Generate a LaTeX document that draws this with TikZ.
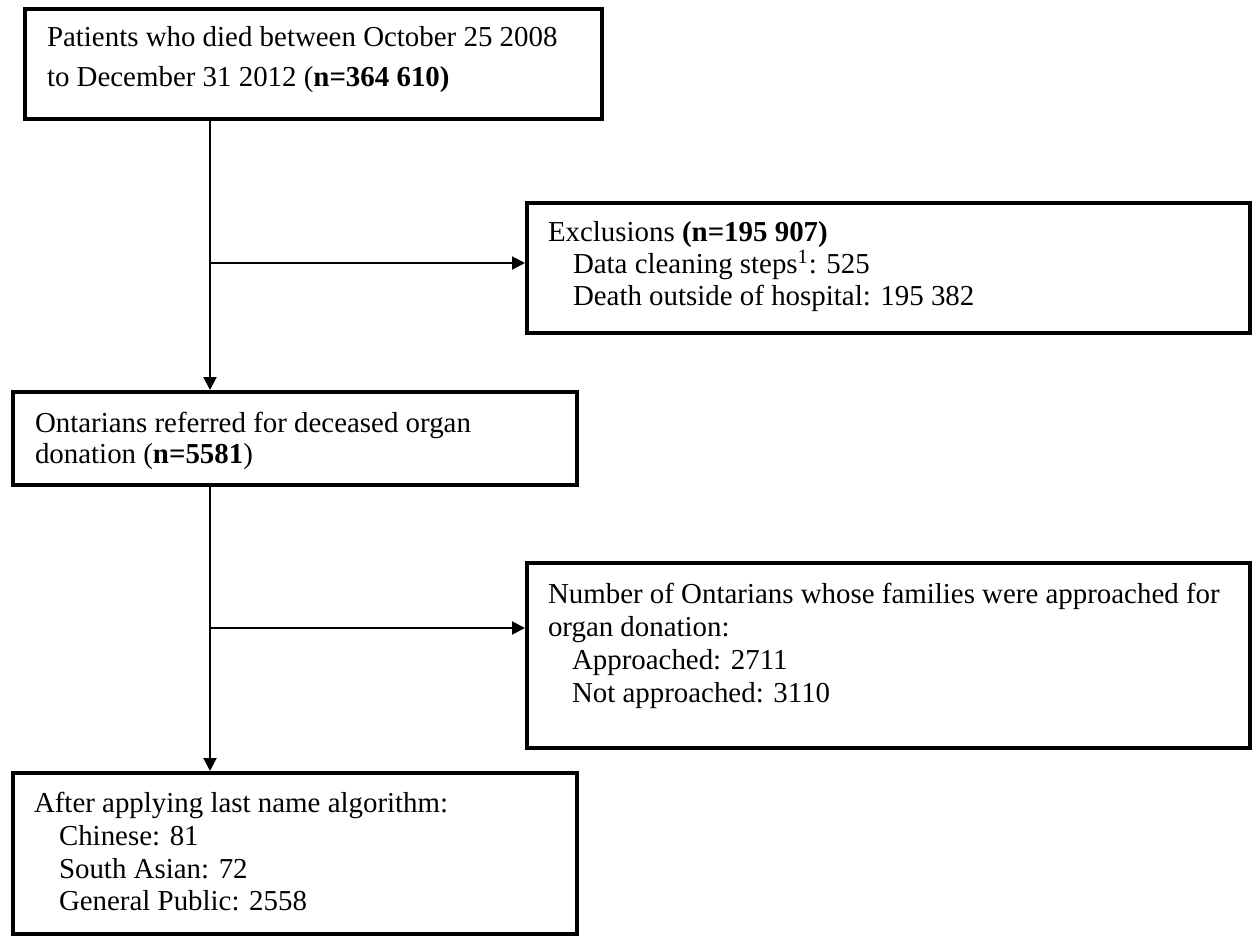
\documentclass[tikz,border=0pt]{standalone}
\usepackage{fontspec}
\setmainfont{Liberation Serif}
\usetikzlibrary{arrows.meta}
\begin{document}
\begin{tikzpicture}[x=0.5pt,y=-0.5pt,
  box/.style={draw, line width=2pt, inner sep=0pt, outer sep=0pt},
  txt/.style={anchor=base west, inner sep=0pt, outer sep=0pt, font=\fontsize{14.45pt}{16.5pt}\selectfont},
  conn/.style={line width=1pt, shorten >=1pt, -{Triangle[length=6.5pt,width=6.5pt]}}]
\fill[white] (0,0) rectangle (1253,936);
\useasboundingbox (0,0) rectangle (1253,936);

% boxes
\node[box, minimum width=288.5pt, minimum height=55pt] (b1) at (313.5,64) {};
\node[box, minimum width=361.5pt, minimum height=65pt] (ex) at (888.5,268) {};
\node[box, minimum width=282pt, minimum height=46.5pt] (b2) at (295,438.5) {};
\node[box, minimum width=361.5pt, minimum height=92.5pt] (b4) at (888.5,655.5) {};
\node[box, minimum width=282pt, minimum height=80.5pt] (b3) at (295,853.5) {};

% texts
\node[txt] (t1a) at (47,47) {Patients who died between October 25 2008};
\node[txt] (t1b) at (47,87) {to December 31 2012 (\textbf{n=364 610)}};

\node[txt] (tea) at (548,242) {Exclusions \textbf{(n=195 907)}};
\node[txt] (teb) at (573,274) {Data cleaning steps\textsuperscript{1}: 525};
\node[txt] (tec) at (573,306) {Death outside of hospital: 195 382};

\node[txt] (t2a) at (35,432) {Ontarians referred for deceased organ};
\node[txt] (t2b) at (35,463) {donation (\textbf{n=5581})};

\node[txt] (t4a) at (548,603) {Number of Ontarians whose families were approached for};
\node[txt] (t4b) at (548,636) {organ donation:};
\node[txt] (t4c) at (572,669) {Approached: 2711};
\node[txt] (t4d) at (572,702) {Not approached: 3110};

\node[txt] (t3a) at (34,812) {After applying last name algorithm:};
\node[txt] (t3b) at (59,845) {Chinese: 81};
\node[txt] (t3c) at (59,878) {South Asian: 72};
\node[txt] (t3d) at (59,910) {General Public: 2558};

% connectors
\coordinate (sp) at (210,0);
\coordinate (j1) at (210,263);
\coordinate (j2) at (210,628);
\draw[conn] (b1.south -| sp) -- (b2.north -| sp);
\draw[conn] (j1) -- (j1 -| ex.west);
\draw[conn] (b2.south -| sp) -- (b3.north -| sp);
\draw[conn] (j2) -- (j2 -| b4.west);
\end{tikzpicture}
\end{document}
